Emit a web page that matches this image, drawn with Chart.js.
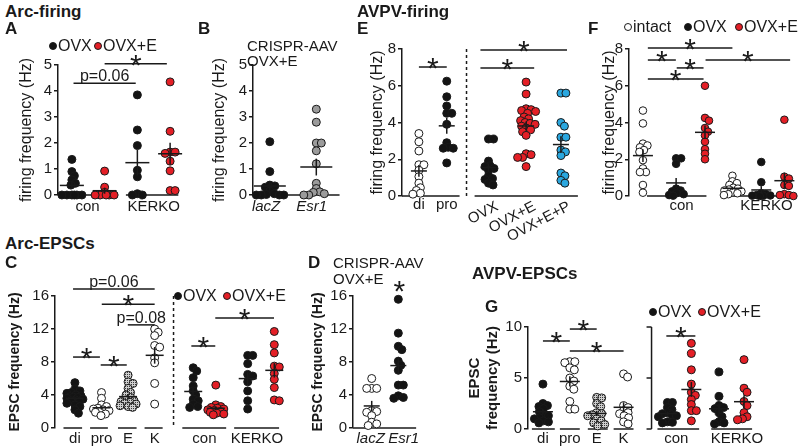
<!DOCTYPE html>
<html>
<head>
<meta charset="utf-8">
<script src="https://cdn.jsdelivr.net/npm/chart.js@4.4.1/dist/chart.umd.min.js"></script>
<style>
  body { margin: 0; width: 800px; height: 448px; background: #fff; position: relative; overflow: hidden;
         font-family: 'Liberation Sans', Arial, sans-serif; color: #1a1a1a; }
  canvas { position: absolute; }
  .t { position: absolute; white-space: nowrap; line-height: 1; }
  .dot { position: absolute; width: 8px; height: 8px; border-radius: 50%; border: 1px solid #1a1a1a; box-sizing: border-box; }
</style>
</head>
<body>
<script>
// ---- values ----

// A: Arc firing (Hz)
const arcLabels = ['con', 'KERKO'];
const arcConOvx  = [1.37, 0.9, 0.74, 0.58, 0.45, 0.38, 0, 0, 0, 0, 0, 0];
const arcConOvxE = [0.92, 0.3, 0.1, 0, 0, 0, 0, 0];
const arcKoOvx   = [3.85, 2.5, 1.9, 0.95, 0.7, 0.05, 0, 0];
const arcKoOvxE  = [4.35, 2.45, 1.65, 1.65, 1.6, 1.3, 0.93, 0.17, 0.17];

// B: CRISPR-AAV firing (Hz)
const crisprLabels = ['lacZ', 'Esr1'];
const crisprLacZ = [2.05, 0.9, 0.38, 0.35, 0.3, 0.15, 0.05, 0.02, 0, 0, 0, 0];
const crisprEsr1 = [3.3, 2.8, 2.0, 2.0, 1.7, 1.2, 0.45, 0.25, 0.12, 0.1, 0.05, 0, 0];

// E: AVPV firing (Hz)
const avpvLabels = ['di', 'pro', 'OVX', 'OVX+E', 'OVX+E+P'];
const avpvDi    = [3.4, 2.95, 2.45, 1.7, 1.7, 1.4, 1.05, 0.7, 0.45, 0.3, 0.15, 0.1];
const avpvPro   = [6.25, 5.4, 4.9, 4.5, 4.5, 3.9, 2.9, 2.65, 2.6, 2.6, 1.8];
const avpvOvx   = [3.1, 3.1, 1.9, 1.65, 1.6, 1.5, 1.4, 1.1, 0.95, 0.9, 0.7, 0.6];
const avpvOvxE  = [6.2, 5.55, 4.75, 4.7, 4.65, 4.6, 4.5, 4.3, 4.2, 4.1, 4.0, 3.95, 3.9, 3.8, 3.7, 3.6, 3.5, 3.3, 2.3, 2.25, 2.1, 2.1, 1.6];
const avpvOvxEP = [5.6, 5.6, 4.0, 3.8, 3.2, 3.2, 2.5, 2.4, 2.2, 1.25, 1.1, 0.85, 0.7];

// F: AVPV firing, KERKO (Hz)
const koLabels = ['con', 'KERKO'];
const koIntactCon = [4.65, 3.95, 2.85, 2.75, 2.65, 2.5, 2.4, 1.95, 1.5, 1.3, 1.3, 0.6, 0.18];
const koOvxCon    = [2.05, 2.05, 1.75, 0.4, 0.3, 0.25, 0.15, 0.1, 0.05, 0.02];
const koOvxECon   = [6.0, 4.25, 4.1, 3.7, 3.5, 3.3, 2.95, 2.55, 2.3, 2.0];
const koIntactKo  = [1.1, 0.8, 0.7, 0.6, 0.45, 0.4, 0.35, 0.3, 0.25, 0.2, 0.15, 0.1, 0.05];
const koOvxKo     = [1.85, 0.75, 0.15, 0.1, 0.05, 0.03, 0.02, 0.01, 0];
const koOvxEKo    = [4.15, 1.05, 0.95, 0.6, 0.55, 0.1, 0.05, 0.05, 0];

// C: Arc EPSCs (Hz)
const arcEpscLabels = ['di', 'pro', 'E', 'K', 'con', 'KERKO'];
const arcEpscDi      = [5.5, 4.7, 4.5, 4.3, 4.2, 4.0, 3.9, 3.8, 3.75, 3.7, 3.6, 3.5, 3.4, 3.3, 3.2, 3.0, 2.8, 2.6, 2.2, 1.8];
const arcEpscPro     = [4.3, 3.6, 2.8, 2.6, 2.4, 2.3, 2.2, 2.1, 2.0, 1.9, 1.7, 1.5];
const arcEpscE       = [6.4, 5.6, 5.4, 4.8, 4.3, 4.0, 3.7, 3.4, 3.3, 3.2, 3.1, 3.0, 2.9, 2.7, 2.6, 2.5];
const arcEpscK       = [12.0, 11.6, 11.2, 10.0, 9.8, 8.5, 7.9, 5.4, 2.9];
const arcEpscConOvx  = [7.3, 6.9, 6.1, 5.1, 4.5, 4.0, 3.5, 3.3, 2.9, 2.6, 2.5];
const arcEpscConOvxE = [5.2, 2.8, 2.6, 2.5, 2.4, 2.3, 2.2, 2.1, 2.0, 1.9, 1.8, 1.7, 1.6];
const arcEpscKoOvx   = [8.8, 8.8, 7.8, 6.5, 6.3, 5.6, 4.5, 3.3, 2.3];
const arcEpscKoOvxE  = [11.7, 10.1, 9.1, 7.5, 7.4, 6.6, 5.9, 4.9, 3.4, 3.3];

// D: CRISPR-AAV EPSCs (Hz)
const crisprEpscLacZ = [6.0, 4.8, 4.8, 4.8, 2.1, 2.0, 1.9, 1.5, 0.7, 0.5, 0.3];
const crisprEpscEsr1 = [15.6, 11.5, 9.9, 9.5, 8.1, 7.6, 7.0, 5.2, 5.2, 3.9, 3.7, 3.6];

// G: AVPV EPSCs (Hz)
const avpvEpscDi      = [4.4, 2.5, 2.3, 2.2, 2.0, 1.7, 1.4, 1.3, 1.1, 1.0, 0.8, 0.7, 0.6];
const avpvEpscPro     = [6.6, 6.6, 6.5, 6.0, 5.8, 5.0, 4.7, 4.2, 3.9, 2.7, 1.95, 1.95];
const avpvEpscE       = [3.1, 3.05, 2.5, 2.2, 1.6, 1.5, 1.4, 1.3, 1.0, 0.8, 0.6, 0.45, 0.3];
const avpvEpscK       = [5.4, 5.1, 2.3, 2.1, 1.8, 1.6, 1.5, 1.3, 1.1, 0.7, 0.5];
const avpvEpscConOvx  = [2.6, 2.6, 2.1, 1.9, 1.6, 1.5, 1.4, 1.3, 1.2, 0.7, 0.65, 0.6];
const avpvEpscConOvxE = [8.4, 7.4, 5.8, 4.4, 3.6, 3.3, 2.9, 2.4, 1.8, 1.8, 0.8];
const avpvEpscKoOvx   = [5.6, 3.2, 2.3, 2.1, 2.0, 1.6, 1.2, 0.7, 0.6, 0.5];
const avpvEpscKoOvxE  = [6.8, 4.0, 3.6, 2.7, 2.3, 1.6, 1.2, 1.0, 0.9];

// ---- styles ----
const INK = '#1a1a1a';
const FONT = "'Liberation Sans', Arial, sans-serif";
Chart.defaults.font.family = FONT;
Chart.defaults.color = INK;

function hatchPattern() {
  const c = document.createElement('canvas');
  c.width = 2; c.height = 2;
  const g = c.getContext('2d');
  g.fillStyle = '#cfcfcf'; g.fillRect(0, 0, 2, 2);
  g.fillStyle = '#3a3a3a'; g.fillRect(0, 0, 1, 1);
  return g.createPattern(c, 'repeat');
}
const FILL = { black: '#141414', red: '#e41f26', open: '#ffffff', gray: '#9b9b9b', blue: '#2aa7df', hatch: hatchPattern() };

// ---- panel layouts (pixel boxes; group positions in slot units) ----
const PANELS = [
  { // A
    groups: [[arcConOvx, 'black'], [arcConOvxE, 'red'], [arcKoOvx, 'black'], [arcKoOvxE, 'red']],
    pos: [0, 1, 2, 3],
    area: { l: 58, t: 65, r: 185, b: 195 }, origin: 72, unit: 33, yMax: 5, step: 1,
    yTitle: 'firing frequency (Hz)', titleX: 27, titleSize: 16, bold: false,
    half: 12, spread: 10, labelDy: 16,
    baselines: [[-0.33, 1.35], [1.65, 3.25]],
    labels: [[arcLabels[0], 0.48], [arcLabels[1], 2.5]],
    brackets: [[0.05, 1.95, 4.3, 'p=0.06'], [1.0, 2.9, 5.05, '*']]
  },
  { // B
    groups: [[crisprLacZ, 'black'], [crisprEsr1, 'gray']],
    pos: [0, 1],
    area: { l: 253, t: 65, r: 345, b: 195 }, origin: 270, unit: 47, yMax: 5, step: 1,
    yTitle: 'firing frequency (Hz)', titleX: 220, titleSize: 16, bold: false,
    half: 16, spread: 14, labelDy: 16,
    baselines: [[-0.36, 1.5]],
    labels: [[crisprLabels[0], -0.08, 'it'], [crisprLabels[1], 0.9, 'it']],
    brackets: []
  },
  { // E
    groups: [[avpvDi, 'open'], [avpvPro, 'black'], [avpvOvx, 'black'], [avpvOvxE, 'red'], [avpvOvxEP, 'blue']],
    pos: [0, 1, 2.5, 3.85, 5.1],
    area: { l: 402, t: 49, r: 582, b: 196 }, origin: 419, unit: 28, yMax: 8, step: 2,
    yTitle: 'firing frequency (Hz)', titleX: 378, titleSize: 16, bold: false,
    half: 8, spread: 10, labelDy: 13, padB: 56,
    baselines: [[-0.607, 1.46], [2.0, 5.71]],
    dashed: [1.71],
    labels: [[avpvLabels[0], 0], [avpvLabels[1], 1], [avpvLabels[2], 2.5, 'rot'], [avpvLabels[3], 3.85, 'rot'], [avpvLabels[4], 5.1, 'rot']],
    brackets: [[0, 1, 7.02, '*'], [2.21, 4.14, 6.97, '*'], [2.21, 5.32, 7.95, '*']]
  },
  { // F
    groups: [[koIntactCon, 'open'], [koOvxCon, 'black'], [koOvxECon, 'red'], [koIntactKo, 'open'], [koOvxKo, 'black'], [koOvxEKo, 'red']],
    pos: [0, 1.15, 2.15, 3.1, 4.1, 4.9],
    area: { l: 629, t: 49, r: 798, b: 196 }, origin: 643, unit: 29, yMax: 8, step: 2,
    yTitle: 'firing frequency (Hz)', titleX: 610, titleSize: 16, bold: false,
    half: 10, spread: 9, labelDy: 14, r: 3.8,
    baselines: [[0.14, 2.2], [3.0, 5.17]],
    labels: [[koLabels[0], 1.34], [koLabels[1], 4.28]],
    brackets: [[0.17, 3.1, 8.05, '*'], [0.17, 1.14, 7.4, '*'], [1.17, 2.1, 6.97, '*'], [0.17, 2.1, 6.37, '*'], [2.17, 5.1, 7.4, '*']]
  },
  { // C
    groups: [[arcEpscDi, 'black'], [arcEpscPro, 'open'], [arcEpscE, 'hatch'], [arcEpscK, 'open'],
             [arcEpscConOvx, 'black'], [arcEpscConOvxE, 'red'], [arcEpscKoOvx, 'black'], [arcEpscKoOvxE, 'red']],
    pos: [0, 1, 2, 3, 4.45, 5.3, 6.5, 7.5],
    area: { l: 55, t: 296, r: 285, b: 428 }, origin: 75, unit: 26.7, yMax: 16, step: 4,
    yTitle: 'EPSC frequency (Hz)', titleX: 15, titleSize: 14, bold: true,
    half: 9, spread: 8, labelDy: 15,
    baselines: [[-0.43, 0.27], [0.57, 1.24], [1.62, 2.32], [2.62, 3.3], [4.04, 5.69], [5.99, 7.68]],
    dashed: [3.71],
    labels: [[arcEpscLabels[0], 0], [arcEpscLabels[1], 1], [arcEpscLabels[2], 2], [arcEpscLabels[3], 3],
             [arcEpscLabels[4], 4.87], [arcEpscLabels[5], 6.85]],
    brackets: [[-0.07, 3.0, 16.85, 'p=0.06'], [1.01, 3.0, 15.0, '*'], [1.99, 3.0, 12.5, 'p=0.08'],
               [-0.07, 0.94, 8.6, '*'], [0.97, 1.95, 7.64, '*'], [4.38, 5.28, 9.94, '*'], [5.28, 7.49, 13.33, '*']]
  },
  { // D
    groups: [[crisprEpscLacZ, 'open'], [crisprEpscEsr1, 'black']],
    pos: [0, 1],
    area: { l: 353, t: 296, r: 420, b: 428 }, origin: 372, unit: 27, yMax: 16, step: 4,
    yTitle: 'EPSC frequency (Hz)', titleX: 318, titleSize: 14, bold: true,
    half: 8, spread: 9, labelDy: 15,
    baselines: [[-0.7, 1.67]],
    labels: [[crisprLabels[0], -0.04, 'it'], [crisprLabels[1], 1.2, 'it']],
    brackets: [[1.04, 1.04, 16.7, '*', true]]
  },
  { // G
    groups: [[avpvEpscDi, 'black'], [avpvEpscPro, 'open'], [avpvEpscE, 'hatch'], [avpvEpscK, 'open'],
             [avpvEpscConOvx, 'black'], [avpvEpscConOvxE, 'red'], [avpvEpscKoOvx, 'black'], [avpvEpscKoOvxE, 'red']],
    pos: [0, 1, 2, 3, 4.63, 5.52, 6.55, 7.48],
    area: { l: 528, t: 327, r: 760, b: 429 }, origin: 543, unit: 27, yMax: 10, step: 5,
    yTitle: ['EPSC', 'frequency (Hz)'], titleX: 475, titleSize: 15, bold: true,
    half: 10, spread: 9, labelDy: 14,
    baselines: [[-0.41, 0.44], [0.63, 1.37], [1.67, 2.41], [2.63, 3.37], [4.26, 5.81], [6.26, 7.78]],
    axis2: 4.04,
    labels: [[arcEpscLabels[0], 0], [arcEpscLabels[1], 1], [arcEpscLabels[2], 2], [arcEpscLabels[3], 3],
             [arcEpscLabels[4], 4.96], [arcEpscLabels[5], 7.22]],
    brackets: [[0, 1, 8.63, '*'], [1, 2, 9.8, '*'], [1, 3, 7.65, '*'], [4.59, 5.67, 9.12, '*']]
  }
];

function seg(ctx, x1, y1, x2, y2) {
  ctx.beginPath(); ctx.moveTo(x1, y1); ctx.lineTo(x2, y2); ctx.stroke();
}

// baselines, separators, mean ± SEM, group labels and significance bars
function deco(p) {
  return {
    id: 'deco',
    beforeDatasetsDraw(chart) {
      const { ctx, chartArea: ca, scales: { x, y } } = chart;
      const y0 = y.getPixelForValue(0);
      ctx.save();
      ctx.strokeStyle = INK; ctx.lineWidth = 1.5;
      p.baselines.forEach(([u, v]) => seg(ctx, x.getPixelForValue(u), y0, x.getPixelForValue(v), y0));
      if (p.axis2 !== undefined) {
        const ax = x.getPixelForValue(p.axis2);
        seg(ctx, ax, y.getPixelForValue(y.max), ax, y0);
        y.ticks.forEach(t => { const ty = y.getPixelForValue(t.value); seg(ctx, ax - 5, ty, ax, ty); });
      }
      ctx.setLineDash([3, 3]);
      (p.dashed || []).forEach(v => { const dx = x.getPixelForValue(v); seg(ctx, dx, ca.top, dx, ca.bottom); });
      ctx.restore();
    },
    afterDatasetsDraw(chart) {
      const { ctx, scales: { x, y } } = chart;
      const y0 = y.getPixelForValue(0);
      ctx.save();
      ctx.strokeStyle = INK; ctx.fillStyle = INK; ctx.lineWidth = 1.5;
      chart.data.datasets.forEach(ds => {
        const n = ds.values.length;
        const m = ds.values.reduce((s, v) => s + v, 0) / n;
        const se = Math.sqrt(ds.values.reduce((s, v) => s + (v - m) ** 2, 0) / (n - 1)) / Math.sqrt(n);
        const cx = x.getPixelForValue(ds.center), my = y.getPixelForValue(m);
        seg(ctx, cx - p.half, my, cx + p.half, my);
        seg(ctx, cx, y.getPixelForValue(m + se), cx, y.getPixelForValue(m - se));
      });
      ctx.textAlign = 'center'; ctx.textBaseline = 'alphabetic';
      p.labels.forEach(([t, v, mode]) => {
        const lx = x.getPixelForValue(v);
        if (mode === 'rot') {
          ctx.save();
          ctx.translate(lx + 5, y0 + 3); ctx.rotate(-28 * Math.PI / 180);
          ctx.textAlign = 'right'; ctx.textBaseline = 'top';
          ctx.font = '15px ' + FONT; ctx.fillText(t, 0, 0);
          ctx.restore();
        } else {
          ctx.font = (mode === 'it' ? 'italic ' : '') + '15px ' + FONT;
          ctx.fillText(t, lx, y0 + p.labelDy);
        }
      });
      p.brackets.forEach(([u, v, h, t, noLine]) => {
        const x1 = x.getPixelForValue(u), x2 = x.getPixelForValue(v), py = y.getPixelForValue(h);
        if (!noLine) seg(ctx, x1, py, x2, py);
        const cx = (x1 + x2) / 2;
        if (t === '*') { ctx.font = '30px ' + FONT; ctx.fillText('*', cx, py + 11); }
        else { ctx.font = '16px ' + FONT; ctx.fillText(t, cx, py - 2); }
      });
      ctx.restore();
    }
  };
}

// spread points of each group sideways inside a narrow band (layout only)
function swarm(chart, r, k, spread) {
  const xs = chart.scales.x, ys = chart.scales.y;
  const unit = xs.getPixelForValue(1) - xs.getPixelForValue(0);
  const d = 2 * r * k;
  chart.data.datasets.forEach(ds => {
    const placed = [];
    ds.values.map(v => ({ v, py: ys.getPixelForValue(v) }))
      .sort((a, b) => a.py - b.py)
      .forEach(pt => {
        let best = 0, bestScore = -1;
        for (let i = 0; ; i++) {
          const dx = (i % 2 ? 1 : -1) * Math.ceil(i / 2) * 0.5;
          if (Math.abs(dx) > spread) break;
          const score = Math.min(Infinity, ...placed.map(q => Math.hypot(q.dx - dx, q.py - pt.py)));
          if (score >= d) { best = dx; break; }
          if (score > bestScore + 0.01) { best = dx; bestScore = score; }
        }
        pt.dx = best;
        placed.push(pt);
      });
    ds.data = placed.map(pt => ({ x: ds.center + pt.dx / unit, y: pt.v }));
  });
  chart.update('none');
}

PANELS.forEach(p => {
  const a = p.area;
  const r = p.r || 4;
  const padT = 34, padB = p.padB || 24, padR = 4;
  const left = Math.round(p.titleX - p.titleSize * 1.2 / 2);
  const top = a.t - padT;
  const cv = document.createElement('canvas');
  cv.width = a.r + padR - left;
  cv.height = a.b + padB - top;
  cv.style.left = left + 'px';
  cv.style.top = top + 'px';
  document.body.appendChild(cv);
  const yw = a.l - left;

  const chart = new Chart(cv, {
    type: 'scatter',
    data: {
      datasets: p.groups.map((g, i) => ({
        data: g[0].map(v => ({ x: p.pos[i], y: v })),
        values: g[0],
        center: p.pos[i],
        backgroundColor: FILL[g[1]],
        borderColor: INK,
        borderWidth: 1,
        pointRadius: r,
        pointHoverRadius: r,
        clip: false
      }))
    },
    options: {
      responsive: false,
      animation: false,
      events: [],
      layout: { padding: { left: 0, top: padT, right: padR, bottom: padB } },
      plugins: { legend: { display: false }, tooltip: { enabled: false } },
      scales: {
        x: { type: 'linear', display: false, min: (a.l - p.origin) / p.unit, max: (a.r - p.origin) / p.unit },
        y: {
          min: 0, max: p.yMax,
          ticks: { stepSize: p.step, font: { size: 15 }, color: INK, padding: 2 },
          grid: { display: true, drawOnChartArea: false, drawTicks: true, tickLength: 4, color: INK, lineWidth: 1.5 },
          border: { display: true, color: INK, width: 1.5 },
          title: { display: true, text: p.yTitle, color: INK, padding: 0,
                   font: { size: p.titleSize, weight: p.bold ? 'bold' : 'normal' } },
          afterFit: s => { s.width = yw; }
        }
      }
    },
    plugins: [deco(p)]
  });
  swarm(chart, r, 0.6, p.spread);
});

// ---- titles, panel letters, legends ----
function text(s, x, cy, size, style) {
  const el = document.createElement('div');
  el.className = 't';
  el.textContent = s;
  el.style.left = x + 'px';
  el.style.top = (cy - size / 2) + 'px';
  el.style.fontSize = size + 'px';
  if (style) el.style.cssText += style;
  document.body.appendChild(el);
}
function legend(cy, items) {
  items.forEach(([cx, style, label]) => {
    const d = document.createElement('div');
    d.className = 'dot';
    d.style.left = (cx - 4) + 'px';
    d.style.top = (cy - 4) + 'px';
    d.style.background = FILL[style];
    document.body.appendChild(d);
    text(label, cx + 5, cy, 16);
  });
}

const B = 'font-weight:bold;';
text('Arc-firing', 5, 11, 17, B);
text('A', 5, 28, 17, B);
text('B', 198, 28, 17, B);
text('CRISPR-AAV', 247, 45, 15);
text('OVX+E', 247, 60, 15);
text('AVPV-firing', 357, 11, 17, B);
text('E', 357, 28, 17, B);
text('F', 588, 28, 17, B);
text('Arc-EPSCs', 5, 243, 17, B);
text('C', 5, 262, 17, B);
text('D', 308, 262, 17, B);
text('CRISPR-AAV', 333, 262, 15);
text('OVX+E', 333, 278, 15);
text('AVPV-EPSCs', 472, 273, 17, B);
text('G', 485, 306, 17, B);

legend(46, [[53, 'black', 'OVX'], [98, 'red', 'OVX+E']]);
legend(27, [[628, 'open', 'intact'], [688, 'black', 'OVX'], [739, 'red', 'OVX+E']]);
legend(296, [[178, 'black', 'OVX'], [227, 'red', 'OVX+E']]);
legend(312, [[653, 'black', 'OVX'], [702, 'red', 'OVX+E']]);
</script>
</body>
</html>
